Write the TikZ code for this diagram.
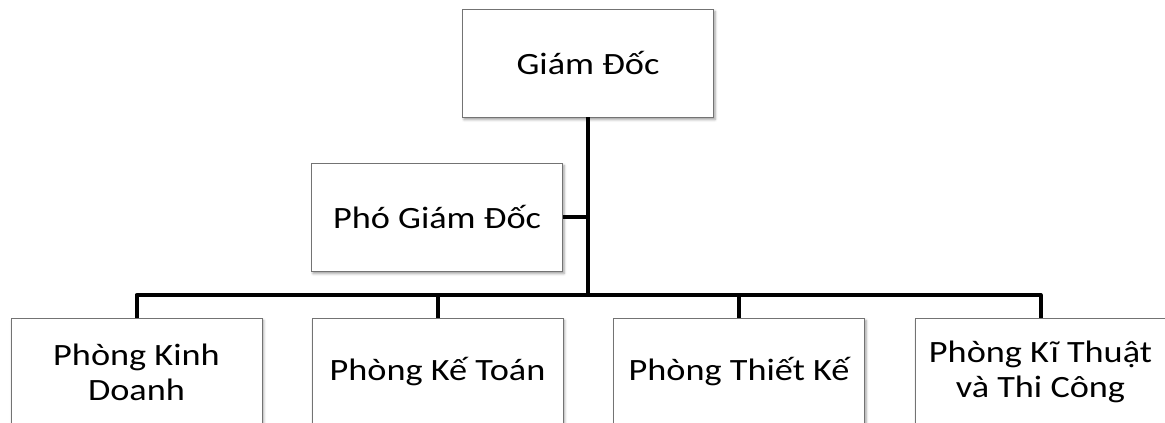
\documentclass[tikz,border=0pt]{standalone}
\usepackage{fontspec}
\setmainfont{Carlito}[FakeStretch=1.17]
\usetikzlibrary{shadows.blur}

\tikzset{
  unitbox/.style={draw=black!55, line width=0.8pt, fill=white,
    minimum width=251pt, minimum height=108pt, inner sep=0pt,
    align=center, font=\fontsize{31}{35}\selectfont,
    blur shadow={shadow xshift=1.5pt, shadow yshift=-2.5pt,
      shadow blur radius=2.5pt, shadow opacity=40}},
  link/.style={line width=4pt, black, line join=round}
}

\begin{document}
\begin{tikzpicture}[x=1pt,y=-1pt]
  \useasboundingbox (0,0) rectangle (1165,423);
  \clip (0,0) rectangle (1165,423);

  % director and deputy
  \node[unitbox] (gd)  at (588,63)  {Giám Đốc};
  \node[unitbox] (pgd) at (437,217) {Phó Giám Đốc};

  % departments
  \node[unitbox] (kd) at (136.5,372)  {Phòng Kinh\\Doanh};
  \node[unitbox] (kt) at (437.5,372)  {Phòng Kế Toán};
  \node[unitbox] (tk) at (739,372)    {Phòng Thiết Kế};
  \node[unitbox] (kt4) at (1040.5,372) {Phòng Kĩ Thuật\\và Thi Công};

  % bus height
  \coordinate (bus) at (0,295);

  % connectors
  \draw[link] (gd.south) -- (gd.south |- bus);
  \draw[link] (pgd.east) -- (pgd.east -| gd.south);
  \draw[link] (kd.north) -- (kd.north |- bus) -- (kt4.north |- bus) -- (kt4.north);
  \draw[link] (kt.north) -- (kt.north |- bus);
  \draw[link] (tk.north) -- (tk.north |- bus);
\end{tikzpicture}
\end{document}
